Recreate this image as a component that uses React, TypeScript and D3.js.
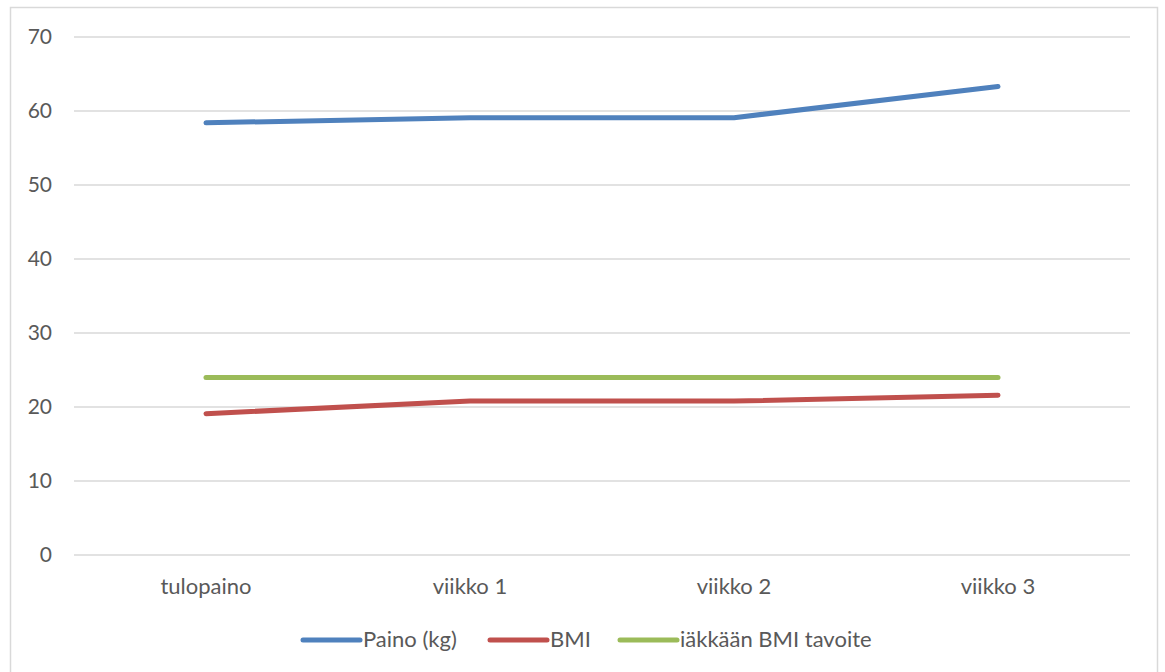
import React from "react";
import * as d3 from "d3";

const categories = ["tulopaino", "viikko 1", "viikko 2", "viikko 3"];
const paino = [58.4, 59.1, 59.1, 63.3];
const bmi = [19.1, 20.8, 20.8, 21.6];
const tavoite = [24, 24, 24, 24];
const yTicks = [0, 10, 20, 30, 40, 50, 60, 70];

const seriesNames = ["Paino (kg)", "BMI", "iäkkään BMI tavoite"];
const seriesColors = ["#4F81BD", "#C0504D", "#9BBB59"];

export default function App() {
  const W = 1165, H = 672;
  const left = 74, right = 1130, top = 37, bottom = 555;
  const x = d3.scaleBand<string>().domain(categories).range([left, right]);
  const y = d3.scaleLinear().domain([0, 70]).range([bottom, top]);
  const line = d3.line<number>()
    .x((_, i) => (x(categories[i]) as number) + x.bandwidth() / 2)
    .y((d) => y(d));
  const allSeries = [paino, bmi, tavoite];
  const font = "Lato, 'Open Sans', sans-serif";
  const legendItems = [
    { lx: 303, tx: 363 },
    { lx: 490, tx: 550 },
    { lx: 620, tx: 680 },
  ];
  return (
    <svg width={W} height={H} style={{ position: "absolute", left: 0, top: 0, background: "#fff" }} fontFamily={font}>
      <rect x={10.5} y={7.5} width={1147} height={700} fill="#fff" stroke="#D9D9D9" strokeWidth={1.5} />
      {yTicks.map((t) => (
        <g key={t}>
          <line x1={left} x2={right} y1={y(t)} y2={y(t)} stroke="#D9D9D9" strokeWidth={1.5} />
          <text x={52} y={y(t)} dy="0.35em" textAnchor="end" fontSize={21} fill="#595959">{t}</text>
        </g>
      ))}
      {categories.map((c) => (
        <text key={c} x={(x(c) as number) + x.bandwidth() / 2} y={586} dy="0.35em" textAnchor="middle" fontSize={22} fill="#595959">{c}</text>
      ))}
      {allSeries.map((s, i) => (
        <path key={i} d={line(s) || ""} fill="none" stroke={seriesColors[i]} strokeWidth={5} strokeLinecap="round" strokeLinejoin="round" />
      ))}
      {seriesNames.map((n, i) => (
        <g key={n}>
          <line x1={legendItems[i].lx} x2={legendItems[i].lx + 57} y1={640} y2={640} stroke={seriesColors[i]} strokeWidth={5} strokeLinecap="round" />
          <text x={legendItems[i].tx} y={639} dy="0.35em" fontSize={22} fill="#595959">{n}</text>
        </g>
      ))}
    </svg>
  );
}
